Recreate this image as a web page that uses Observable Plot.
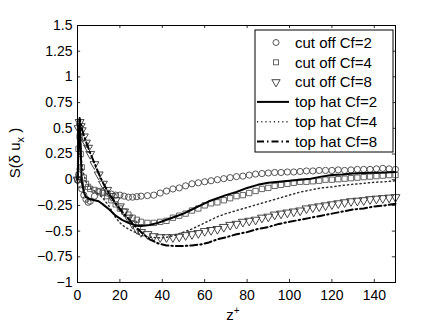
<!DOCTYPE html>
<html>
<head>
<meta charset="utf-8">
<script src="https://cdn.jsdelivr.net/npm/d3@7"></script>
<script src="https://cdn.jsdelivr.net/npm/@observablehq/plot@0.6"></script>
<style>
  html, body { margin: 0; padding: 0; background: #fff; }
  #chart { width: 436px; height: 327px; }
</style>
</head>
<body>
<div id="chart"></div>
<script>
// ---- data ----
const xTicks = [0, 20, 40, 60, 80, 100, 120, 140];
const yTicks = [-1, -0.75, -0.5, -0.25, 0, 0.25, 0.5, 0.75, 1, 1.25, 1.5];

const zMarker = [0, 0.5, 1, 1.5, 2, 3, 4, 5, 6, 8, 10, 12, 14, 16, 18, 20, 22, 24, 26, 28, 30,
  33, 36, 39, 42, 45, 48, 51, 54, 57, 60, 63, 66, 69, 72, 75, 78, 81, 84, 87, 90,
  93, 96, 99, 102, 105, 108, 111, 114, 117, 120, 123, 126, 129, 132, 135, 138, 141, 144, 147, 150];

const cutoff2 = [0, 0.05, 0.0, -0.05, -0.09, -0.15, -0.19, -0.22, -0.21, -0.16, -0.12, -0.12, -0.13, -0.14, -0.15, -0.15, -0.16, -0.17, -0.17, -0.165, -0.16,
  -0.155, -0.15, -0.13, -0.11, -0.09, -0.08, -0.06, -0.04, -0.03, -0.02, -0.01, 0.0, 0.01, 0.02, 0.03, 0.035, 0.045, 0.055, 0.06, 0.065,
  0.07, 0.07, 0.075, 0.075, 0.08, 0.085, 0.085, 0.09, 0.09, 0.09, 0.095, 0.09, 0.095, 0.1, 0.1, 0.1, 0.105, 0.11, 0.105, 0.1];

const cutoff4 = [0, 0.3, 0.42, 0.25, 0.12, 0.02, -0.04, -0.07, -0.09, -0.1, -0.11, -0.13, -0.16, -0.2, -0.24, -0.28, -0.31, -0.34, -0.37, -0.39, -0.41,
  -0.42, -0.42, -0.41, -0.4, -0.37, -0.35, -0.33, -0.3, -0.28, -0.25, -0.23, -0.22, -0.2, -0.18, -0.16, -0.15, -0.13, -0.11, -0.09, -0.08,
  -0.06, -0.05, -0.04, -0.03, -0.02, -0.02, -0.015, -0.01, 0.0, 0.0, 0.005, 0.01, 0.015, 0.02, 0.025, 0.03, 0.035, 0.04, 0.045, 0.045];

const cutoff8 = [0, 0.5, 0.56, 0.52, 0.48, 0.42, 0.36, 0.31, 0.25, 0.15, 0.05, -0.04, -0.1, -0.16, -0.2, -0.26, -0.31, -0.37, -0.43, -0.48, -0.51,
  -0.53, -0.55, -0.56, -0.56, -0.56, -0.555, -0.54, -0.53, -0.52, -0.5, -0.49, -0.48, -0.46, -0.44, -0.43, -0.41, -0.4, -0.39, -0.37, -0.36,
  -0.34, -0.33, -0.32, -0.31, -0.3, -0.28, -0.27, -0.26, -0.25, -0.24, -0.23, -0.22, -0.21, -0.205, -0.2, -0.19, -0.185, -0.18, -0.175, -0.17];

const zLine = [0, 0.5, 1, 1.5, 2, 3, 4, 6, 8, 10, 12, 15, 18, 21, 24, 27, 30, 34, 38, 42, 46, 50, 54, 58, 62, 66, 70,
  75, 80, 85, 90, 95, 100, 105, 110, 115, 120, 125, 130, 135, 140, 145, 150];

const tophat2 = [0, 0.3, 0.58, 0.3, -0.02, -0.12, -0.17, -0.19, -0.2, -0.21, -0.24, -0.29, -0.35, -0.39, -0.42, -0.44, -0.45, -0.44, -0.42, -0.39, -0.36, -0.33, -0.29, -0.25, -0.21, -0.18, -0.15,
  -0.12, -0.08, -0.05, -0.03, -0.02, -0.01, 0.0, 0.01, 0.03, 0.045, 0.05, 0.06, 0.065, 0.068, 0.07, 0.075];

const tophat4 = [0, 0.3, 0.5, 0.35, 0.15, 0.05, -0.02, -0.08, -0.11, -0.14, -0.18, -0.26, -0.37, -0.44, -0.48, -0.51, -0.54, -0.56, -0.565, -0.56, -0.54, -0.51, -0.48, -0.44, -0.4, -0.36, -0.33,
  -0.3, -0.27, -0.24, -0.21, -0.18, -0.15, -0.12, -0.1, -0.08, -0.07, -0.055, -0.045, -0.035, -0.025, -0.02, -0.01];

const tophat8 = [0, 0.4, 0.6, 0.55, 0.5, 0.43, 0.37, 0.26, 0.16, 0.06, -0.03, -0.14, -0.23, -0.31, -0.38, -0.45, -0.51, -0.58, -0.62, -0.64, -0.645, -0.645, -0.64, -0.63, -0.61, -0.58, -0.56,
  -0.53, -0.51, -0.48, -0.46, -0.43, -0.41, -0.39, -0.37, -0.35, -0.33, -0.31, -0.29, -0.28, -0.26, -0.25, -0.235];

const legendLabels = ["cut off Cf=2", "cut off Cf=4", "cut off Cf=8", "top hat Cf=2", "top hat Cf=4", "top hat Cf=8"];

// ---- build tables ----
const pts = (zs, vs) => zs.map((z, i) => ({z, v: vs[i]}));
const c2 = pts(zMarker, cutoff2), c4 = pts(zMarker, cutoff4), c8 = pts(zMarker, cutoff8);
const t2 = pts(zLine, tophat2), t4 = pts(zLine, tophat4), t8 = pts(zLine, tophat8);

const fmt = d => String(d).replace("-", "\u2212");
const FONT = "'Liberation Sans', Arial, Helvetica, sans-serif";

const chart = Plot.plot({
  width: 436,
  height: 327,
  marginLeft: 77,
  marginRight: 41,
  marginTop: 25,
  marginBottom: 45,
  style: {fontSize: "14px", fontFamily: FONT, color: "#000", background: "#fff", overflow: "visible"},
  x: {domain: [0, 150]},
  y: {domain: [-1, 1.5]},
  marks: [
    // markers
    Plot.dot(c2, {x: "z", y: "v", symbol: "circle", r: 3.1, stroke: "#444", strokeWidth: 0.9, fill: "none"}),
    Plot.dot(c4, {x: "z", y: "v", symbol: "square", r: 3.0, stroke: "#555", strokeWidth: 0.9, fill: "none"}),
    Plot.dot(c8, {x: "z", y: "v", symbol: "triangle", rotate: 180, r: 3.3, stroke: "#333", strokeWidth: 0.9, fill: "none"}),
    // lines
    Plot.line(t4, {x: "z", y: "v", stroke: "#333", strokeWidth: 1.5, strokeDasharray: "1.2,3"}),
    Plot.line(t8, {x: "z", y: "v", stroke: "#000", strokeWidth: 2, strokeDasharray: "7,3,1.5,3"}),
    Plot.line(t2, {x: "z", y: "v", stroke: "#000", strokeWidth: 2}),
    // inward ticks on all four sides
    Plot.ruleX(xTicks, {x: d => d, y1: -1, y2: -0.97, stroke: "#000", strokeWidth: 0.8}),
    Plot.ruleX(xTicks, {x: d => d, y1: 1.5, y2: 1.47, stroke: "#000", strokeWidth: 0.8}),
    Plot.ruleY(yTicks, {y: d => d, x1: 0, x2: 1.5, stroke: "#000", strokeWidth: 0.8}),
    Plot.ruleY(yTicks, {y: d => d, x1: 150, x2: 148.5, stroke: "#000", strokeWidth: 0.8}),
    Plot.axisX({ticks: xTicks, tickSize: 0, tickPadding: 8, tickFormat: fmt, label: null}),
    Plot.axisY({ticks: yTicks, tickSize: 0, tickPadding: 5, tickFormat: fmt, label: null}),
    Plot.frame({stroke: "#000", strokeWidth: 1})
  ]
});

document.getElementById("chart").appendChild(chart);

// ---- axis labels with sub/superscripts ----
const svg = d3.select(chart);
const ylab = svg.append("text")
  .attr("transform", "translate(20,153) rotate(-90)")
  .attr("text-anchor", "middle")
  .attr("font-family", FONT).attr("font-size", 15).attr("fill", "#000");
ylab.append("tspan").text("S(\u03b4 u");
ylab.append("tspan").attr("font-size", 11).attr("dy", 4).text("x");
ylab.append("tspan").attr("dy", -4).text(" )");

const xlab = svg.append("text")
  .attr("x", 233).attr("y", 320)
  .attr("text-anchor", "middle")
  .attr("font-family", FONT).attr("font-size", 15).attr("fill", "#000");
xlab.append("tspan").text("z");
xlab.append("tspan").attr("font-size", 10).attr("dy", -6).text("+");

// ---- legend ----
const lg = svg.append("g").attr("transform", "translate(255,30)").attr("text-anchor", "start");
lg.append("rect").attr("width", 138).attr("height", 122).attr("fill", "#fff").attr("stroke", "#000").attr("stroke-width", 1);
const rowY = i => 12.5 + i * 19.8;
const sym = d3.symbol();
legendLabels.forEach((lab, i) => {
  const y = rowY(i);
  const g = lg.append("g").attr("transform", `translate(0,${y})`);
  if (i === 0) g.append("circle").attr("cx", 21).attr("cy", 0).attr("r", 3).attr("fill", "none").attr("stroke", "#444").attr("stroke-width", 0.9);
  if (i === 1) g.append("rect").attr("x", 18.5).attr("y", -2.5).attr("width", 5).attr("height", 5).attr("fill", "none").attr("stroke", "#555").attr("stroke-width", 0.9);
  if (i === 2) g.append("path").attr("d", sym.type(d3.symbolTriangle).size(30)()).attr("transform", "translate(21,0) rotate(180)").attr("fill", "none").attr("stroke", "#333").attr("stroke-width", 0.9);
  if (i === 3) g.append("line").attr("x1", 2).attr("x2", 34).attr("stroke", "#000").attr("stroke-width", 2);
  if (i === 4) g.append("line").attr("x1", 2).attr("x2", 34).attr("stroke", "#333").attr("stroke-width", 1.5).attr("stroke-dasharray", "1.2,3");
  if (i === 5) g.append("line").attr("x1", 2).attr("x2", 34).attr("stroke", "#000").attr("stroke-width", 2).attr("stroke-dasharray", "7,3,1.5,3");
  g.append("text").attr("x", 40).attr("y", 0).attr("dy", "0.35em").attr("text-anchor", "start")
    .attr("font-family", FONT).attr("font-size", 15).attr("fill", "#000").text(lab);
});
</script>
</body>
</html>
